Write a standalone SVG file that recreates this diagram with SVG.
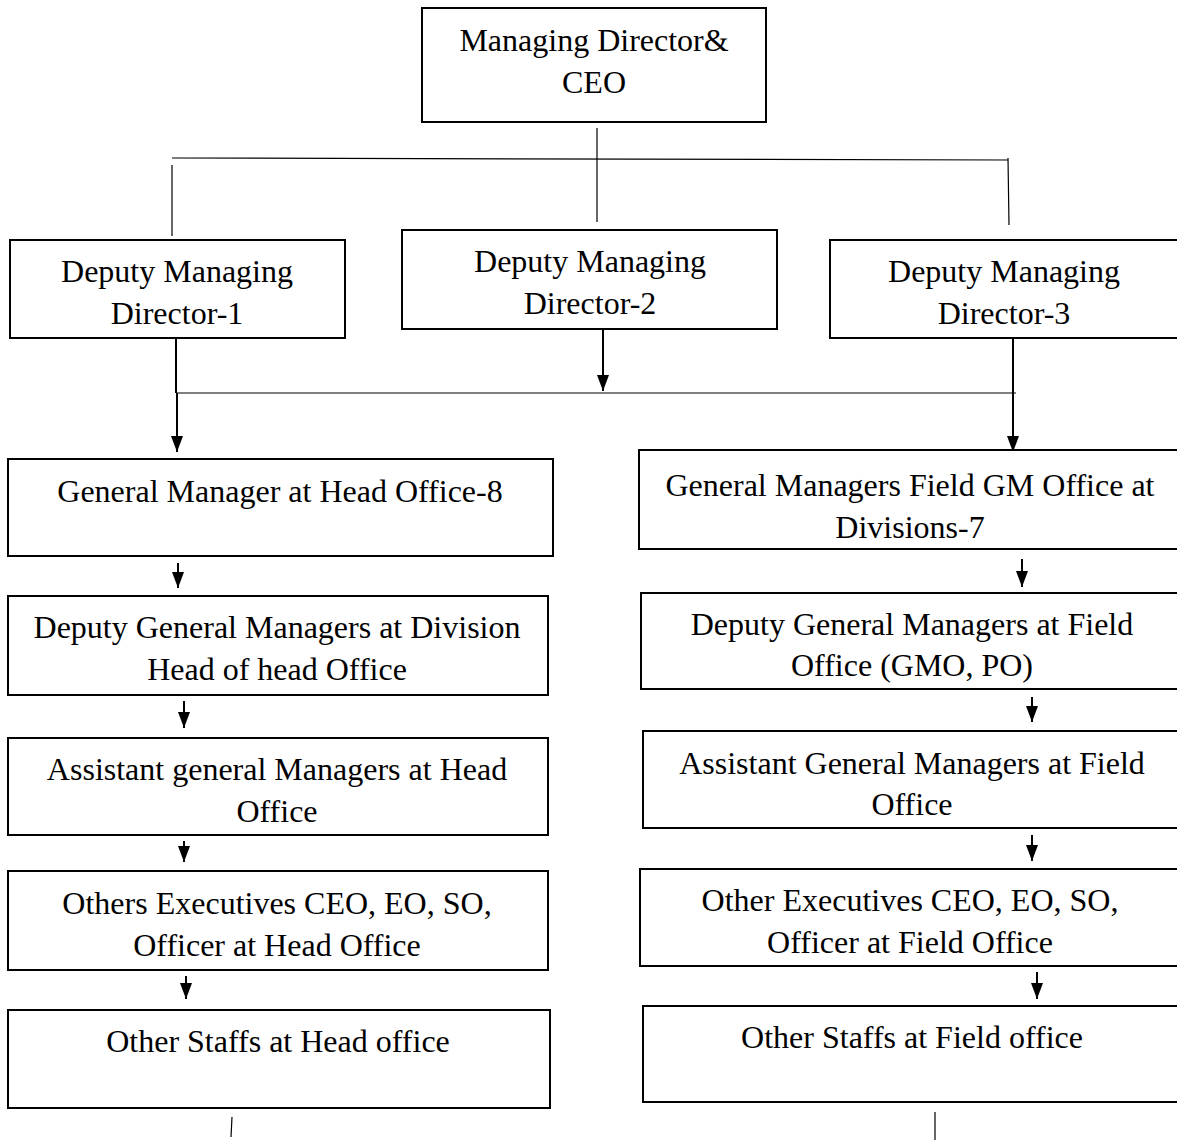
<svg xmlns="http://www.w3.org/2000/svg" width="1177" height="1143" viewBox="0 0 1177 1143">
<style>
.box{fill:#fff;stroke:#000;stroke-width:2}
text{font-family:'Liberation Serif','Times New Roman',Tinos,'DejaVu Serif',serif;font-size:32px;fill:#000;text-anchor:middle}
.ln{stroke:#000;stroke-width:1.2;fill:none}
.ar{stroke:#000;stroke-width:2;fill:none}
</style>
<defs>
<marker id="ah" viewBox="0 0 16 12" refX="16" refY="6" markerWidth="16" markerHeight="12" markerUnits="userSpaceOnUse" orient="auto">
<path d="M0,0 L16,6 L0,12 Z" fill="#000"/>
</marker>
</defs>
<rect width="1177" height="1143" fill="#fff"/>
<g id="connectors">
<line class="ln" x1="597" y1="128" x2="597" y2="222"/>
<line class="ln" x1="172" y1="158" x2="1008" y2="160"/>
<line class="ln" x1="172" y1="165" x2="172" y2="236"/>
<line class="ln" x1="1008" y1="158" x2="1009" y2="225"/>
<line class="ar" x1="176" y1="338" x2="176" y2="393"/>
<line class="ln" x1="176" y1="393" x2="1016" y2="393"/>
<line class="ar" x1="177" y1="393" x2="177" y2="452" marker-end="url(#ah)"/>
<line class="ar" x1="603" y1="329" x2="603" y2="391" marker-end="url(#ah)"/>
<line class="ar" x1="1013" y1="338" x2="1013" y2="452" marker-end="url(#ah)"/>
<line class="ar" x1="178" y1="563" x2="178" y2="588" marker-end="url(#ah)"/>
<line class="ar" x1="184" y1="701" x2="184" y2="728" marker-end="url(#ah)"/>
<line class="ar" x1="184" y1="841" x2="184" y2="862" marker-end="url(#ah)"/>
<line class="ar" x1="186" y1="976" x2="186" y2="999" marker-end="url(#ah)"/>
<line class="ln" x1="232" y1="1117" x2="231" y2="1137"/>
<line class="ar" x1="1022" y1="559" x2="1022" y2="587" marker-end="url(#ah)"/>
<line class="ar" x1="1032" y1="697" x2="1032" y2="722" marker-end="url(#ah)"/>
<line class="ar" x1="1032" y1="835" x2="1032" y2="861" marker-end="url(#ah)"/>
<line class="ar" x1="1037" y1="972" x2="1037" y2="999" marker-end="url(#ah)"/>
<line class="ln" x1="935" y1="1112" x2="935" y2="1140"/>
</g>
<g id="ceo"><rect class="box" x="422" y="8" width="344" height="114"/><text x="594" y="51">Managing Director&amp;</text><text x="594" y="93">CEO</text></g>
<g id="dmd1"><rect class="box" x="10" y="240" width="335" height="98"/><text x="177" y="282">Deputy Managing</text><text x="177" y="324">Director-1</text></g>
<g id="dmd2"><rect class="box" x="402" y="230" width="375" height="99"/><text x="590" y="272">Deputy Managing</text><text x="590" y="314">Director-2</text></g>
<g id="dmd3"><rect class="box" x="830" y="240" width="360" height="98"/><text x="1004" y="282">Deputy Managing</text><text x="1004" y="324">Director-3</text></g>
<g id="gm-ho"><rect class="box" x="8" y="459" width="545" height="97"/><text x="280" y="502">General Manager at Head Office-8</text></g>
<g id="dgm-ho"><rect class="box" x="8" y="596" width="540" height="99"/><text x="277" y="638">Deputy General Managers at Division</text><text x="277" y="680">Head of head Office</text></g>
<g id="agm-ho"><rect class="box" x="8" y="738" width="540" height="97"/><text x="277" y="780">Assistant general Managers at Head</text><text x="277" y="822">Office</text></g>
<g id="oe-ho"><rect class="box" x="8" y="871" width="540" height="99"/><text x="277" y="914">Others Executives CEO, EO, SO,</text><text x="277" y="956">Officer at Head Office</text></g>
<g id="os-ho"><rect class="box" x="8" y="1010" width="542" height="98"/><text x="278" y="1052">Other Staffs at Head office</text></g>
<g id="gm-fo"><rect class="box" x="639" y="450" width="550" height="99"/><text x="910" y="496">General Managers Field GM Office at</text><text x="910" y="538">Divisions-7</text></g>
<g id="dgm-fo"><rect class="box" x="641" y="593" width="550" height="96"/><text x="912" y="635">Deputy General Managers at Field</text><text x="912" y="676">Office (GMO, PO)</text></g>
<g id="agm-fo"><rect class="box" x="643" y="731" width="550" height="97"/><text x="912" y="774">Assistant General Managers at Field</text><text x="912" y="815">Office</text></g>
<g id="oe-fo"><rect class="box" x="640" y="869" width="550" height="97"/><text x="910" y="911">Other Executives CEO, EO, SO,</text><text x="910" y="953">Officer at Field Office</text></g>
<g id="os-fo"><rect class="box" x="643" y="1006" width="550" height="96"/><text x="912" y="1048">Other Staffs at Field office</text></g>
</svg>
